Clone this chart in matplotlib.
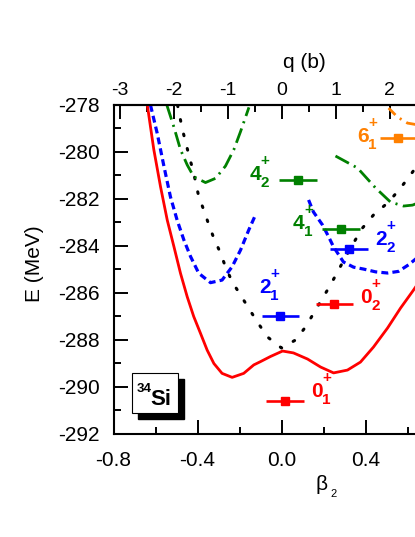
import matplotlib
matplotlib.use('Agg')
import matplotlib.pyplot as plt
from matplotlib.patches import Rectangle
from matplotlib.ticker import MultipleLocator, FixedLocator, FormatStrFormatter

plt.rcParams['font.family'] = ['Liberation Sans', 'DejaVu Sans']
plt.rcParams['axes.unicode_minus'] = False
plt.rcParams['lines.scale_dashes'] = False

# potential energy curves, E (MeV) vs beta_2
red_beta = [-0.639, -0.608, -0.576, -0.544, -0.513, -0.481, -0.449, -0.418, -0.386, -0.354,
            -0.322, -0.283, -0.235, -0.18, -0.132, -0.1, -0.052, 0.005, 0.057, 0.124,
            0.186, 0.248, 0.314, 0.376, 0.438, 0.505, 0.567, 0.629, 0.68]
red_E = [-278.0, -279.9, -281.48, -282.9, -284.0, -285.16, -286.16, -287.0, -287.71, -288.43,
         -289.0, -289.42, -289.59, -289.42, -289.06, -288.92, -288.7, -288.47, -288.55, -288.81,
         -289.15, -289.4, -289.28, -288.94, -288.3, -287.49, -286.64, -285.87, -285.2]

blue_left_beta = [-0.624, -0.592, -0.56, -0.529, -0.497, -0.465, -0.433, -0.394, -0.338,
                  -0.283, -0.235, -0.195, -0.156, -0.124]
blue_left_E = [-278.0, -279.2, -280.6, -281.9, -282.9, -283.74, -284.45, -285.16, -285.56,
               -285.45, -284.88, -284.17, -283.32, -282.68]
blue_right_beta = [0.129, 0.152, 0.195, 0.224, 0.248, 0.295, 0.343, 0.39, 0.448, 0.505, 0.557, 0.605, 0.66]
blue_right_E = [-282.04, -282.55, -283.1, -283.6, -284.04, -284.68, -284.9, -284.98, -285.1, -285.15, -285.08, -284.8, -284.4]

black_beta = [-0.495, -0.473, -0.441, -0.418, -0.394, -0.37, -0.346, -0.322, -0.29, -0.267,
              -0.235, -0.195, -0.156, -0.116, -0.067, 0.0, 0.067, 0.114, 0.233, 0.305,
              0.343, 0.386, 0.438, 0.51, 0.567, 0.614, 0.66]
black_E = [-278.0, -279.0, -280.13, -280.9, -281.9, -282.47, -283.1, -283.67, -284.31, -284.88,
           -285.52, -286.09, -286.65, -287.22, -287.87, -288.34, -288.0, -287.45, -285.66, -284.47,
           -283.87, -283.23, -282.68, -282.13, -281.53, -280.98, -280.4]

green_left_beta = [-0.546, -0.513, -0.481, -0.449, -0.418, -0.362, -0.314, -0.267, -0.227, -0.195, -0.155]
green_left_E = [-278.0, -278.92, -279.9, -280.55, -281.05, -281.3, -281.12, -280.6, -279.9, -279.13, -278.1]
green_right_beta = [0.257, 0.362, 0.448, 0.519, 0.581, 0.624, 0.686]
green_right_E = [-280.17, -280.68, -281.53, -282.13, -282.3, -282.26, -282.04]

orange_beta = [0.51, 0.552, 0.6, 0.652]
orange_E = [-278.13, -278.51, -278.77, -278.85]

# experimental levels (square + horizontal bar)
level_beta = [0.015, -0.005, 0.252, 0.32, 0.283, 0.078, 0.557]
level_E = [-290.6, -287.0, -286.47, -284.13, -283.28, -281.2, -279.4]
level_err = [0.09, 0.09, 0.09, 0.09, 0.09, 0.09, 0.09]
level_J = ['0', '2', '0', '2', '4', '4', '6']
level_n = ['1', '1', '2', '2', '1', '2', '1']
level_color = ['red', 'blue', 'red', 'blue', 'green', 'green', '#ff8000']
# where each label sits (left, baseline of the big digit)
label_beta = [0.141, -0.107, 0.374, 0.446, 0.055, -0.154, 0.36]
label_E = [-290.43, -286.0, -286.43, -283.96, -283.28, -281.19, -279.57]

# tick values that fall inside the visible part of the frame
beta_ticks = [-0.8, -0.4, 0.0, 0.4]
q_ticks = [-3, -2, -1, 0, 1, 2]

W, H = 415, 537
fig = plt.figure(figsize=(W / 100, H / 100), dpi=100)


def fx(px):
    return px / W


def fy(py):
    return 1 - py / H


ax = fig.add_axes([fx(113.5), fy(434), 1.8 * 210 / W, 329 / H])
ax.set_xlim(-0.8, 1.0)
ax.set_ylim(-292, -278)

ax.plot(red_beta, red_E, color='red', lw=2.0, solid_joinstyle='round')
ax.plot(blue_left_beta, blue_left_E, color='blue', lw=2.3, dashes=(5, 3))
ax.plot(blue_right_beta, blue_right_E, color='blue', lw=2.3, dashes=(5, 3))
ax.plot(black_beta, black_E, color='black', lw=2.2, dashes=(1.2, 9.5), dash_capstyle='round')
ax.plot(green_left_beta, green_left_E, color='green', lw=2.0, dashes=(11, 4, 1.5, 4))
ax.plot(green_right_beta, green_right_E, color='green', lw=2.0, dashes=(11, 4, 1.5, 4))
ax.plot(orange_beta, orange_E, color='#ff8000', lw=2.0, dashes=(7, 4, 1.5, 4))

for i in range(len(level_beta)):
    c = level_color[i]
    ax.errorbar(level_beta[i], level_E[i], xerr=level_err[i], fmt='s', color=c,
                ms=6, lw=1.9, capsize=0)
    x, y = label_beta[i], label_E[i]
    ax.text(x, y, level_J[i], color=c, fontsize=15, fontweight='bold',
            ha='left', va='baseline')
    ax.annotate(level_n[i], (x, y), xytext=(8.2, -5), textcoords='offset points',
                color=c, fontsize=11, fontweight='bold', ha='left', va='baseline')
    ax.annotate('+', (x, y), xytext=(8.2, 11), textcoords='offset points',
                color=c, fontsize=11, fontweight='bold', ha='left', va='baseline')

# axes and ticks
for s in ax.spines.values():
    s.set_linewidth(1.5)
ax.xaxis.set_major_locator(FixedLocator(beta_ticks))
ax.xaxis.set_minor_locator(MultipleLocator(0.2))
ax.xaxis.set_major_formatter(FormatStrFormatter('%.1f'))
ax.yaxis.set_major_locator(MultipleLocator(2))
ax.yaxis.set_minor_locator(MultipleLocator(1))
ax.yaxis.set_major_formatter(FormatStrFormatter('%d'))
ax.tick_params(which='major', direction='in', length=10, width=1.4, labelsize=15)
ax.tick_params(which='minor', direction='in', length=5, width=1.4)
ax.tick_params(axis='y', which='major', pad=10)
ax.tick_params(axis='x', which='major', pad=12)

k = 210 / 54
sec = ax.secondary_xaxis('top', functions=(lambda b: b * k, lambda q: q / k))
sec.spines['top'].set_linewidth(1.5)
sec.xaxis.set_major_locator(FixedLocator(q_ticks))
sec.xaxis.set_minor_locator(MultipleLocator(0.5))
sec.xaxis.set_major_formatter(FormatStrFormatter('%d'))
sec.tick_params(which='major', direction='in', length=10, width=1.4, labelsize=14, pad=4)
sec.tick_params(which='minor', direction='in', length=5, width=1.4)

# axis titles
fig.text(fx(35), fy(264), 'E (MeV)', rotation=90, fontsize=15, ha='center', va='center')
fig.text(fx(304), fy(62), 'q (b)', fontsize=15, ha='center', va='center')
fig.text(fx(322), fy(485), '\u03b2', fontsize=15, ha='center', va='center')
fig.text(fx(330), fy(497), '2', fontsize=8, ha='left', va='baseline')

# nucleus box with shadow
fig.add_artist(Rectangle((fx(138), fy(419)), 46 / W, 40 / H, transform=fig.transFigure,
                         facecolor='black', edgecolor='black'))
fig.add_artist(Rectangle((fx(132), fy(413)), 46 / W, 40 / H, transform=fig.transFigure,
                         facecolor='white', edgecolor='black', lw=0.8))
fig.text(fx(137), fy(392), '34', fontsize=9.5, fontweight='bold', ha='left', va='baseline', zorder=5)
fig.text(fx(150), fy(405), 'Si', fontsize=16, fontweight='bold', ha='left', va='baseline', zorder=5)

fig.savefig('out.png', dpi=100)
